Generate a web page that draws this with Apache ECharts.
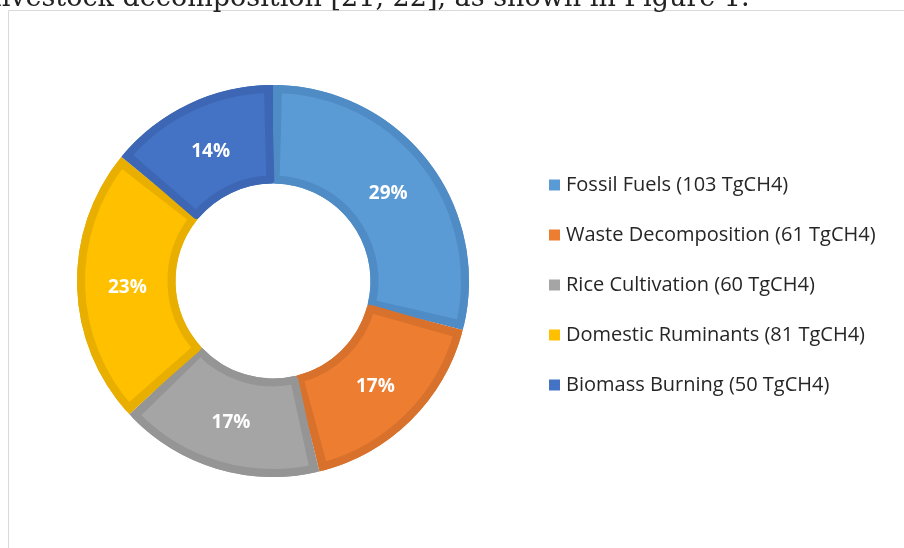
<!DOCTYPE html>
<html>
<head>
<meta charset="utf-8">
<script src="https://cdn.jsdelivr.net/npm/echarts@6/dist/echarts.min.js"></script>
<style>
html,body{margin:0;padding:0;background:#fff;}
#chart{width:904px;height:548px;}
</style>
</head>
<body>
<div id="chart"></div>
<script>
// ---- data ----
const categories = ['Fossil Fuels', 'Waste Decomposition', 'Rice Cultivation', 'Domestic Ruminants', 'Biomass Burning'];
const values = [103, 61, 60, 81, 50];
const unit = 'TgCH4';
const headerText = 'livestock decomposition [21, 22], as shown in Figure 1.';

// ---- style ----
const fillColors = ['#5B9BD5', '#ED7D31', '#A5A5A5', '#FFC000', '#4472C4'];
const edgeColors = ['#4F8CC6', '#D8712B', '#959595', '#E8AF00', '#3D67B4'];

const chart = echarts.init(document.getElementById('chart'), null, {renderer: 'canvas'});

const valueByName = {};
categories.forEach((c, i) => { valueByName[c] = values[i]; });

const center = [273, 281];

const pieBase = {
  type: 'pie',
  center: center,
  startAngle: 90,
  clockwise: true,
  avoidLabelOverlap: false,
  emphasis: {disabled: true},
  labelLine: {show: false}
};

chart.setOption({
  animation: false,
  backgroundColor: '#ffffff',
  graphic: [
    {
      type: 'rect',
      shape: {x: 8.5, y: 10.5, width: 1000, height: 1000},
      style: {fill: 'none', stroke: '#d9d9d9', lineWidth: 1},
      silent: true, z: 0
    },
    {
      type: 'text',
      left: -7, top: -15,
      style: {
        text: headerText,
        font: '27px "DejaVu Serif"',
        fill: '#222222'
      },
      silent: true, z: 0
    }
  ],
  legend: {
    orient: 'vertical',
    left: 549,
    top: 173,
    padding: 0,
    itemWidth: 11,
    itemHeight: 11,
    itemGap: 26,
    icon: 'rect',
    selectedMode: false,
    data: categories,
    itemStyle: {borderWidth: 0},
    formatter: name => `${name} (${valueByName[name]} ${unit})`,
    textStyle: {
      fontFamily: 'Open Sans',
      fontSize: 20,
      lineHeight: 24,
      padding: [0, 0, 0, 1],
      color: '#262626'
    }
  },
  series: [
    Object.assign({}, pieBase, {
      name: 'fill',
      radius: [101.5, 192],
      padAngle: 3,
      z: 3,
      data: categories.map((c, i) => ({
        name: c,
        value: values[i],
        itemStyle: {color: fillColors[i], borderColor: edgeColors[i], borderWidth: 8}
      })),
      label: {show: false}
    }),
    Object.assign({}, pieBase, {
      name: 'edge',
      radius: [97.5, 196],
      silent: true,
      z: 1,
      data: categories.map((c, i) => ({
        name: c,
        value: values[i],
        itemStyle: {color: edgeColors[i], borderWidth: 0}
      })),
      label: {show: false}
    }),
    Object.assign({}, pieBase, {
      name: 'labels',
      radius: [97.5, 188],
      silent: true,
      percentPrecision: 0,
      z: 5,
      data: categories.map((c, i) => ({
        name: c,
        value: values[i],
        itemStyle: {color: 'rgba(0,0,0,0)', borderWidth: 0}
      })),
      label: {
        show: true,
        position: 'inside',
        formatter: '{d}%',
        offset: [0, 2],
        color: '#ffffff',
        fontFamily: 'Open Sans',
        fontWeight: 'bold',
        fontSize: 19
      }
    })
  ]
});
</script>
</body>
</html>
